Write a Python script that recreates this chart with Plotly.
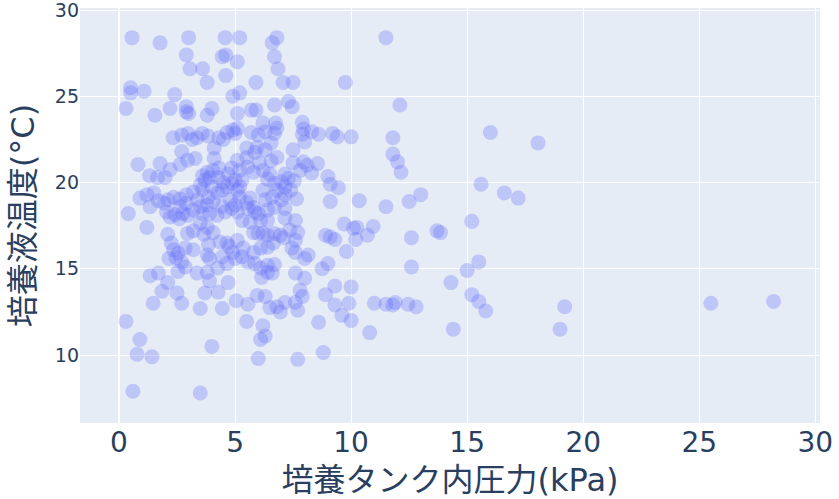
import plotly.graph_objects as go

# (pressure kPa, temperature °C) pairs
points = [
    # upper band (>23.5 °C)
    (0.56,28.4),(1.77,28.1),(3.0,28.4),(2.9,27.4),(3.06,26.6),(3.6,26.6),(3.8,25.8),(4.57,28.4),
    (5.2,28.4),(4.45,27.3),(4.6,27.4),(5.1,27.0),(4.6,26.2),(5.9,25.8),(4.9,25.0),(5.2,25.2),
    (6.6,28.1),(6.8,28.4),(6.7,27.3),(6.85,26.6),(7.07,25.8),(7.5,25.8),(9.75,25.8),(11.5,28.4),
    (12.1,24.5),(0.5,25.5),(0.5,25.2),(1.08,25.3),(0.3,24.3),(1.55,23.9),(2.2,24.3),(2.4,25.1),
    (2.9,24.4),(2.9,24.1),(3.0,24.0),(3.8,23.9),(4.0,24.3),(5.1,24.0),(5.7,24.2),(5.9,24.2),
    (7.3,24.7),(7.46,24.4),(6.7,24.5),
    # 20-23.5 °C
    (0.82,21.05),(1.32,20.4),(1.66,20.3),(1.98,20.3),(1.77,21.1),(2.2,20.75),(2.63,21.05),(2.95,21.3),
    (3.28,21.4),(2.33,22.6),(2.7,22.75),(2.97,22.85),(3.15,22.5),(3.36,22.6),(3.58,22.85),(3.84,22.7),
    (2.7,21.8),(4.1,22.0),(4.1,21.4),(4.3,22.6),(4.5,22.5),(4.65,22.9),(4.9,23.05),(5.1,23.15),
    (3.8,20.6),(4.05,20.7),(4.3,20.85),(4.7,20.5),(4.85,20.85),(5.1,21.3),(5.2,20.7),(5.5,21.45),
    (5.5,22.0),(5.85,21.75),(5.95,22.05),(6.3,21.9),(6.55,22.3),(5.55,20.9),(6.05,21.15),(5.8,20.6),
    (6.2,20.7),(6.55,21.25),(6.8,21.45),(6.5,20.5),(6.4,20.2),(6.7,19.95),(5.0,22.85),(5.7,22.9),
    (6.0,22.75),(6.3,22.95),(6.2,23.45),(6.75,23.45),(6.8,23.15),(6.7,22.85),
    (7.9,23.5),(7.95,23.1),(7.9,22.8),(8.0,22.35),(8.3,22.95),(8.6,22.8),(9.2,22.85),(9.4,22.65),
    (10.0,22.65),(7.5,21.9),(7.5,21.15),(7.95,21.2),(8.1,21.0),(8.55,21.1),(8.3,20.55),(9.0,20.35),
    (7.8,20.7),(7.15,20.5),(7.3,20.25),(7.0,20.05),(7.55,20.1),
    (11.8,22.6),(11.8,21.65),(12.0,21.2),(12.15,20.6),(16.0,22.9),(18.05,22.3),
    # 15-20 °C
    (0.9,19.1),(1.2,19.3),(1.5,19.4),(1.7,18.95),(0.4,18.2),(1.34,18.6),(1.95,18.8),(2.1,19.0),
    (2.05,18.3),(2.2,18.0),(2.4,18.15),(2.6,17.9),(2.75,18.2),(2.97,18.1),(2.35,19.15),(2.63,19.05),
    (2.63,18.6),(2.9,19.3),(2.9,18.8),(3.2,19.45),(3.38,19.0),(3.5,18.6),(3.6,19.6),(3.85,19.15),
    (3.8,18.7),(4.05,18.9),(4.25,19.4),(4.45,19.55),(4.45,18.6),(4.65,19.75),(4.87,19.95),(4.8,19.0),
    (5.0,18.7),(5.2,19.15),(5.5,18.85),(5.8,18.55),(6.0,18.2),(6.3,19.0),(6.4,18.4),(3.5,19.85),
    (3.7,20.15),(3.9,20.3),(4.27,20.3),(4.5,20.0),(5.0,20.15),(3.6,20.4),(4.0,19.75),(5.2,19.75),
    (3.2,18.4),(3.6,18.2),(3.9,18.2),(4.22,18.1),(4.57,18.3),(4.87,18.5),(5.1,18.3),
    (5.1,19.55),(5.3,20.15),(5.65,19.1),(5.55,18.5),(5.85,18.3),(6.2,19.55),(6.8,19.55),(6.6,19.15),
    (7.0,19.0),(7.15,18.5),(6.7,18.55),(7.15,19.75),(7.4,19.55),(7.15,19.3),(7.65,19.05),
    (9.1,18.9),(10.35,18.95),(9.1,19.9),(9.45,19.7),(12.5,18.9),(13.0,19.3),(11.5,18.6),(15.6,19.9),
    (16.6,19.4),(17.2,19.1),
    (1.2,17.4),(2.1,17.0),(2.25,16.5),(2.35,16.1),(2.55,15.9),(2.15,15.6),(2.45,15.65),(2.7,15.4),
    (2.85,16.2),(3.2,16.1),(2.95,17.05),(3.2,17.2),(3.5,17.65),(3.8,17.4),(3.65,17.0),(4.05,17.1),
    (3.85,16.4),(3.8,15.8),(3.9,15.6),(4.45,15.7),(4.35,16.55),(4.65,16.5),(4.75,16.3),(4.9,15.95),
    (5.1,16.65),(5.0,15.6),(5.35,16.2),(5.8,15.95),
    (5.3,17.8),(5.65,17.7),(6.1,17.8),(6.4,17.8),(7.15,17.95),(7.6,17.8),(5.8,17.1),(6.0,17.05),
    (6.2,17.05),(6.4,16.95),(6.7,17.05),(6.95,16.95),(7.1,16.8),(7.35,17.25),(7.7,17.1),
    (6.1,16.2),(6.4,16.25),(6.65,16.5),(7.45,16.2),(7.6,16.65),(5.3,15.7),(5.55,15.4),(5.85,15.3),
    (6.1,15.05),(6.4,15.2),(6.7,15.25),(4.65,15.3),(4.25,15.05),(2.85,15.1),(7.6,15.95),(8.15,15.8),
    (8.0,15.6),(8.9,16.95),(9.1,16.85),(9.3,16.7),(9.7,17.6),(10.1,17.35),(10.25,17.4),(10.95,17.45),
    (10.7,16.95),(10.2,16.7),(9.8,16.0),(12.6,16.8),(13.7,17.2),(13.85,17.1),(15.2,17.75),(9.0,15.3),
    (12.6,15.1),(15.5,15.4),
    # below 15 °C
    (1.34,14.6),(1.7,14.75),(2.1,14.2),(1.85,13.7),(2.5,13.6),(1.47,13.0),(2.7,13.0),(3.5,12.7),
    (4.45,12.7),(3.7,13.6),(4.27,13.65),(4.7,14.2),(3.9,14.3),(3.36,14.75),(3.8,14.8),(2.54,14.85),
    (0.3,11.95),(0.9,10.9),(0.78,10.05),(1.42,9.9),(4.0,10.5),(0.6,7.9),(3.5,7.8),
    (5.05,13.15),(5.55,12.95),(5.5,11.95),(5.95,13.45),(6.3,13.4),(6.2,11.7),(6.3,11.1),(6.1,10.9),
    (6.0,9.8),(7.7,9.75),(8.8,10.15),
    (7.15,13.05),(7.6,13.05),(6.8,12.8),(6.5,12.75),(7.7,12.6),(6.95,12.5),
    (7.8,13.75),(7.9,13.4),(7.6,14.75),(8.0,14.45),(8.9,13.5),(9.3,14.0),(10.0,13.95),(9.3,12.9),
    (9.9,13.0),(9.6,12.3),(10.0,12.0),(8.6,11.9),(11.0,13.0),(11.5,12.95),(11.8,12.9),(11.9,13.05),
    (12.45,12.95),(12.8,12.8),(10.8,11.3),(14.3,14.2),(15.2,13.5),(15.5,13.1),(15.8,12.55),(14.4,11.5),
    (19.2,12.8),(19.0,11.5),(25.5,13.0),(28.2,13.1),
    (6.15,14.5),(6.4,14.8),(6.6,14.75),(8.75,15.0),(15.0,14.9),
]

pressure = [p[0] for p in points]
temperature = [p[1] for p in points]

x_title = "培養タンク内圧力(kPa)"
y_title = "培養液温度(°C)"

fig = go.Figure(
    go.Scatter(
        x=pressure,
        y=temperature,
        mode="markers",
        marker=dict(size=15, color="#636efa", opacity=0.3, line=dict(width=0)),
    )
)

fig.update_layout(
    template="plotly",
    width=839,
    height=499,
    margin=dict(l=80, r=19, t=8, b=76),
    font=dict(family="DejaVu Sans, Noto Sans CJK JP, sans-serif", color="#2a3f5f"),
    showlegend=False,
)
fig.update_xaxes(
    title=dict(text=x_title, font=dict(size=32), standoff=15),
    tickfont=dict(size=28),
    range=[-1.68, 30.2],
    tickmode="array",
    tickvals=[0, 5, 10, 15, 20, 25, 30],
    ticklabeloverflow="allow",
    automargin=False,
)
fig.update_yaxes(
    title=dict(text=y_title, font=dict(size=32), standoff=10),
    tickfont=dict(size=19),
    range=[6.06, 30.12],
    tickmode="array",
    tickvals=[10, 15, 20, 25, 30],
    ticklabeloverflow="allow",
    automargin=False,
)

fig.write_html(
    "out.html",
    config={"displayModeBar": False},
    post_script="document.body.style.margin='0';",
)
